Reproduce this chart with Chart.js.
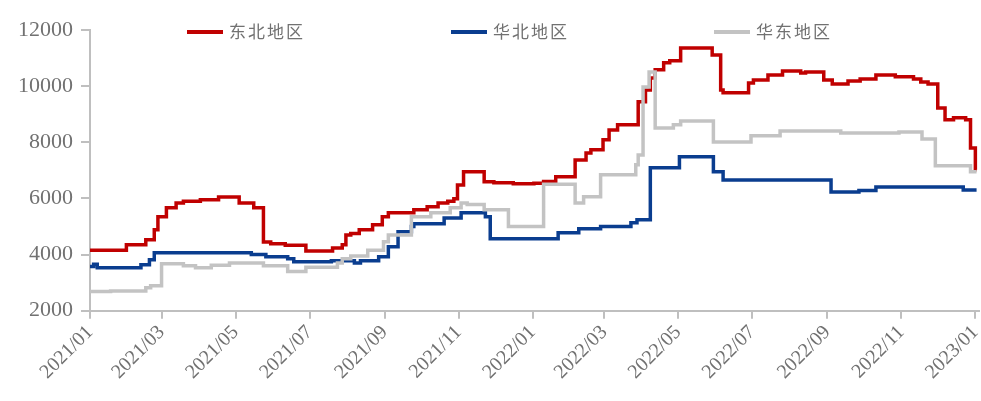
<!DOCTYPE html>
<html>
<head>
<meta charset="utf-8">
<script src="https://cdn.jsdelivr.net/npm/chart.js@4"></script>
<style>
  html, body { margin: 0; padding: 0; background: #fff; }
  #price-chart { display: block; }
</style>
</head>
<body>
<canvas id="price-chart" width="981" height="401"></canvas>
<script>
// each series is a list of change dates and the price that holds from that date on
const seriesNames = ['东北地区', '华北地区', '华东地区'];
const seriesColors = ['#c00000', '#0a3d8f', '#c3c3c3'];

const northeastDates = ['2021-01-01', '2021-01-31', '2021-02-16', '2021-02-23', '2021-02-26', '2021-03-05', '2021-03-13', '2021-03-19', '2021-04-02', '2021-04-17', '2021-05-04', '2021-05-16', '2021-05-24', '2021-05-30', '2021-06-11', '2021-06-28', '2021-07-20', '2021-07-28', '2021-07-31', '2021-08-04', '2021-08-11', '2021-08-22', '2021-08-30', '2021-09-04', '2021-09-25', '2021-10-06', '2021-10-15', '2021-10-23', '2021-10-28', '2021-10-31', '2021-11-05', '2021-11-22', '2021-11-30', '2021-12-16', '2022-01-02', '2022-01-10', '2022-01-20', '2022-02-05', '2022-02-14', '2022-02-18', '2022-02-28', '2022-03-05', '2022-03-12', '2022-03-29', '2022-04-04', '2022-04-08', '2022-04-12', '2022-04-19', '2022-04-24', '2022-05-03', '2022-05-29', '2022-06-05', '2022-06-07', '2022-06-28', '2022-07-02', '2022-07-14', '2022-07-26', '2022-08-10', '2022-08-14', '2022-08-29', '2022-09-05', '2022-09-18', '2022-09-28', '2022-10-11', '2022-10-27', '2022-11-11', '2022-11-17', '2022-11-23', '2022-12-01', '2022-12-07', '2022-12-14', '2022-12-24', '2022-12-28', '2023-01-01', '2023-01-02'];
const northeastValues = [4150, 4350, 4530, 4880, 5350, 5670, 5840, 5900, 5950, 6050, 5840, 5670, 4450, 4380, 4330, 4130, 4230, 4350, 4700, 4750, 4880, 5060, 5350, 5490, 5600, 5700, 5840, 5900, 5990, 6480, 6950, 6590, 6560, 6520, 6540, 6600, 6770, 7370, 7620, 7730, 8090, 8440, 8620, 9440, 9860, 10290, 10580, 10830, 10900, 11360, 11110, 9860, 9760, 10110, 10220, 10400, 10540, 10470, 10500, 10220, 10080, 10180, 10250, 10400, 10330, 10250, 10150, 10080, 9220, 8800, 8870, 8800, 7800, 7020, 7020];

const northDates = ['2021-01-01', '2021-01-04', '2021-01-07', '2021-02-12', '2021-02-19', '2021-02-23', '2021-05-14', '2021-05-26', '2021-06-13', '2021-06-18', '2021-07-19', '2021-08-07', '2021-08-12', '2021-08-27', '2021-09-04', '2021-09-12', '2021-09-23', '2021-09-25', '2021-10-20', '2021-11-03', '2021-11-23', '2021-11-27', '2022-01-22', '2022-02-08', '2022-02-26', '2022-03-23', '2022-03-28', '2022-04-08', '2022-05-02', '2022-05-30', '2022-06-07', '2022-09-04', '2022-09-27', '2022-10-11', '2022-12-22', '2023-01-02'];
const northValues = [3570, 3650, 3530, 3640, 3810, 4060, 4000, 3920, 3850, 3740, 3780, 3700, 3780, 3920, 4280, 4810, 5000, 5100, 5300, 5490, 5350, 4560, 4780, 4920, 5000, 5130, 5240, 7090, 7480, 6950, 6660, 6230, 6280, 6410, 6300, 6300];

const eastDates = ['2021-01-01', '2021-01-18', '2021-02-16', '2021-02-20', '2021-03-01', '2021-03-19', '2021-03-29', '2021-04-11', '2021-04-26', '2021-05-24', '2021-06-13', '2021-06-28', '2021-07-24', '2021-07-28', '2021-08-04', '2021-08-18', '2021-08-31', '2021-09-04', '2021-09-23', '2021-10-09', '2021-10-25', '2021-11-03', '2021-11-08', '2021-11-22', '2021-12-12', '2022-01-10', '2022-02-05', '2022-02-12', '2022-02-26', '2022-03-27', '2022-03-29', '2022-04-02', '2022-04-07', '2022-04-12', '2022-04-27', '2022-05-03', '2022-05-30', '2022-06-30', '2022-07-24', '2022-09-12', '2022-10-30', '2022-11-18', '2022-11-29', '2022-12-28', '2023-01-02'];
const eastValues = [2680, 2700, 2820, 2890, 3670, 3600, 3530, 3620, 3700, 3600, 3400, 3550, 3700, 3850, 3950, 4150, 4460, 4700, 5350, 5490, 5670, 5840, 5780, 5600, 5000, 6500, 5840, 6060, 6840, 7200, 7550, 9970, 10500, 8510, 8620, 8760, 8010, 8230, 8400, 8330, 8370, 8120, 7160, 6950, 6950];

const tickDates = ['2021-01-01', '2021-03-01', '2021-05-01', '2021-07-01', '2021-09-01', '2021-11-01', '2022-01-01', '2022-03-01', '2022-05-01', '2022-07-01', '2022-09-01', '2022-11-01', '2023-01-01'];
const tickLabels = ['2021/01', '2021/03', '2021/05', '2021/07', '2021/09', '2021/11', '2022/01', '2022/03', '2022/05', '2022/07', '2022/09', '2022/11', '2023/01'];

const yMin = 2000, yMax = 12000, yStep = 2000;

const startMs = Date.parse('2021-01-01');
function dayOf(s) {
    return (Date.parse(s) - startMs) / 86400000;
}
function toPoints(dates, values) {
    return dates.map((d, i) => ({ x: dayOf(d), y: values[i] }));
}
const tickDays = tickDates.map(dayOf);

const axisGrey = '#bfbfbf';
const labelGrey = '#717171';

// legend sits on top of the plot area, so it is drawn by hand
const topLegend = {
    id: 'topLegend',
    afterDraw(chart) {
        const ctx = chart.ctx;
        const starts = [187, 451, 714];
        ctx.save();
        ctx.font = '17px "Noto Sans CJK SC", sans-serif';
        ctx.textBaseline = 'middle';
        seriesNames.forEach((name, i) => {
            ctx.strokeStyle = seriesColors[i];
            ctx.lineWidth = 4;
            ctx.beginPath();
            ctx.moveTo(starts[i], 32);
            ctx.lineTo(starts[i] + 36, 32);
            ctx.stroke();
            ctx.fillStyle = labelGrey;
            ctx.letterSpacing = '2px';
            ctx.fillText(name, starts[i] + 42, 32);
        });
        ctx.restore();
    }
};

function makeSet(i, dates, values, order) {
    return {
        label: seriesNames[i],
        data: toPoints(dates, values),
        borderColor: seriesColors[i],
        borderWidth: 3.5,
        pointRadius: 0,
        stepped: true,
        fill: false,
        order: order
    };
}

window.onload = function() {
    const ctx = document.getElementById('price-chart').getContext('2d');
    new Chart(ctx, {
        type: 'line',
        data: {
            datasets: [
                makeSet(0, northeastDates, northeastValues, 3),
                makeSet(1, northDates, northValues, 2),
                makeSet(2, eastDates, eastValues, 1)
            ]
        },
        options: {
            responsive: false,
            animation: false,
            devicePixelRatio: 1,
            layout: { padding: { left: 10, top: 30, right: 2, bottom: 15 } },
            plugins: {
                legend: { display: false },
                tooltip: { enabled: false }
            },
            scales: {
                x: {
                    type: 'linear',
                    min: 0,
                    max: 733,
                    afterBuildTicks: (scale) => {
                        scale.ticks = tickDays.map(v => ({ value: v }));
                    },
                    afterFit: (scale) => {
                        scale.paddingRight = 0;
                    },
                    border: { display: true, color: axisGrey, width: 2 },
                    grid: {
                        display: true,
                        drawOnChartArea: false,
                        drawTicks: true,
                        tickLength: 8,
                        color: axisGrey,
                        lineWidth: 2
                    },
                    ticks: {
                        autoSkip: false,
                        maxRotation: 45,
                        minRotation: 45,
                        padding: 2,
                        color: labelGrey,
                        font: { family: '"Liberation Serif", serif', size: 20 },
                        callback: (v) => tickLabels[tickDays.indexOf(v)]
                    }
                },
                y: {
                    min: yMin,
                    max: yMax,
                    border: { display: true, color: axisGrey, width: 2 },
                    grid: {
                        display: true,
                        drawOnChartArea: false,
                        drawTicks: true,
                        tickLength: 9,
                        color: axisGrey,
                        lineWidth: 2
                    },
                    ticks: {
                        stepSize: yStep,
                        padding: 8,
                        color: labelGrey,
                        font: { family: '"Liberation Serif", serif', size: 22 },
                        callback: (v) => String(v)
                    }
                }
            }
        },
        plugins: [topLegend]
    });
};
</script>
</body>
</html>
